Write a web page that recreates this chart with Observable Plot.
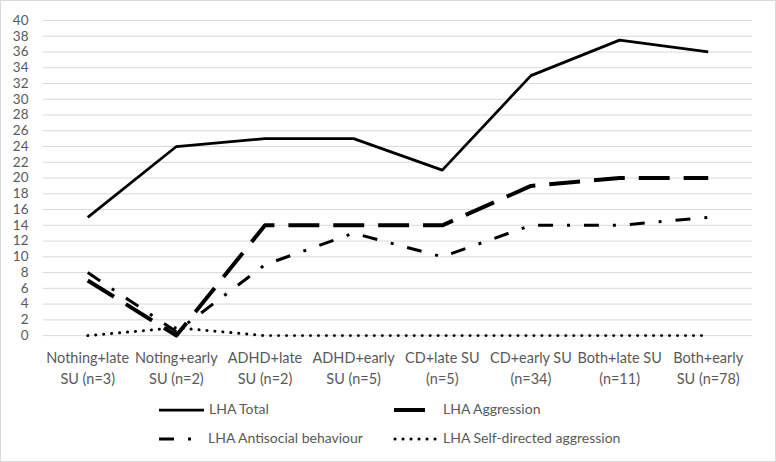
<!DOCTYPE html>
<html><head><meta charset="utf-8">
<script src="https://cdn.jsdelivr.net/npm/d3@7"></script>
<script src="https://cdn.jsdelivr.net/npm/@observablehq/plot@0.6"></script>
<style>
body{margin:0;background:#fff;}
#wrap{position:relative;width:776px;height:462px;box-sizing:border-box;border:1px solid #d9d9d9;background:#fff;overflow:hidden;font-family:Lato,"Open Sans",sans-serif;color:#595959;}
#chart{position:absolute;left:-1px;top:-1px;}
.lg{position:absolute;font-size:14px;line-height:16px;white-space:nowrap;}
.lg svg{position:absolute;}
</style></head>
<body><div id="wrap"><div id="chart"></div><div id="legend"></div></div>
<script>
const categories = ["Nothing+late SU (n=3)","Noting+early SU (n=2)","ADHD+late SU (n=2)","ADHD+early SU (n=5)","CD+late SU (n=5)","CD+early SU (n=34)","Both+late SU (n=11)","Both+early SU (n=78)"];
const tickLabels = ["Nothing+late\nSU (n=3)","Noting+early\nSU (n=2)","ADHD+late\nSU (n=2)","ADHD+early\nSU (n=5)","CD+late SU\n(n=5)","CD+early SU\n(n=34)","Both+late SU\n(n=11)","Both+early\nSU (n=78)"];
const seriesNames = ["LHA Total","LHA Aggression","LHA Antisocial behaviour","LHA Self-directed aggression"];
const lhaTotal = [15,24,25,25,21,33,37.5,36];
const lhaAggression = [7,0,14,14,14,19,20,20];
const lhaAntisocial = [8,0.5,9,13,10,14,14,15];
const lhaSelf = [0,1,0,0,0,0,0,0];
const yTicks = d3.range(0,41,2);

const seriesValues = [lhaTotal,lhaAggression,lhaAntisocial,lhaSelf];
const styles = [
  {strokeWidth:2.75, strokeDasharray:null, strokeLinecap:"butt"},
  {strokeWidth:4, strokeDasharray:"31,14", strokeLinecap:"butt"},
  {strokeWidth:3, strokeDasharray:"15,14,3,14", strokeLinecap:"butt"},
  {strokeWidth:3, strokeDasharray:"0.1,7.9", strokeLinecap:"round"}
];
const table = seriesNames.map((s,i)=>categories.map((c,j)=>({series:s,cat:c,v:seriesValues[i][j]})));
const labelOf = new Map(categories.map((c,i)=>[c,tickLabels[i]]));

const lineMarks = [3,2,1,0].map(i=>Plot.line(table[i],{x:"cat",y:"v",stroke:"black",strokeWidth:styles[i].strokeWidth,strokeDasharray:styles[i].strokeDasharray,strokeLinecap:styles[i].strokeLinecap,strokeLinejoin:"round"}));

const chart = Plot.plot({
  width:777, height:390,
  marginLeft:43, marginRight:23, marginTop:20, marginBottom:54,
  style:{fontFamily:"Lato, 'Open Sans', sans-serif", fontSize:"14px", color:"#595959", background:"transparent"},
  x:{type:"point", domain:categories, padding:0.5, round:false},
  y:{domain:[0,40]},
  marks:[
    Plot.gridY(yTicks,{stroke:"#d9d9d9", strokeOpacity:1, strokeWidth:1}),
    Plot.axisY({ticks:yTicks, tickSize:0, tickPadding:15, label:null, fill:"#595959", fontSize:13.5}),
    Plot.axisX({tickSize:0, tickPadding:13, label:null, tickFormat:d=>labelOf.get(d), lineHeight:1.45, fill:"#595959", fontSize:14.5}),
    ...lineMarks
  ]
});
document.getElementById("chart").appendChild(chart);

// legend
const legendPos = [
  {x:158, y:409, len:45, tx:208},
  {x:393, y:409, len:32, tx:442},
  {x:158, y:438, len:33, tx:207},
  {x:394, y:438, len:47, tx:442}
];
const lg = document.getElementById("legend");
seriesNames.forEach((name,i)=>{
  const p = legendPos[i], st = styles[i];
  const div = document.createElement("div");
  div.className="lg";
  div.style.left="0px"; div.style.top="0px";
  const svg = d3.create("svg").attr("width",p.len+4).attr("height",10)
    .style("left",(p.x-2)+"px").style("top",(p.y-5)+"px");
  svg.append("line").attr("x1",2).attr("x2",p.len+2).attr("y1",5).attr("y2",5)
    .attr("stroke","black").attr("stroke-width",st.strokeWidth)
    .attr("stroke-dasharray",st.strokeDasharray).attr("stroke-linecap",st.strokeLinecap);
  div.appendChild(svg.node());
  const t = document.createElement("span");
  t.textContent=name; t.style.position="absolute"; t.style.left=p.tx+"px"; t.style.top=(p.y-9)+"px";
  div.appendChild(t);
  lg.appendChild(div);
});
</script></body></html>
